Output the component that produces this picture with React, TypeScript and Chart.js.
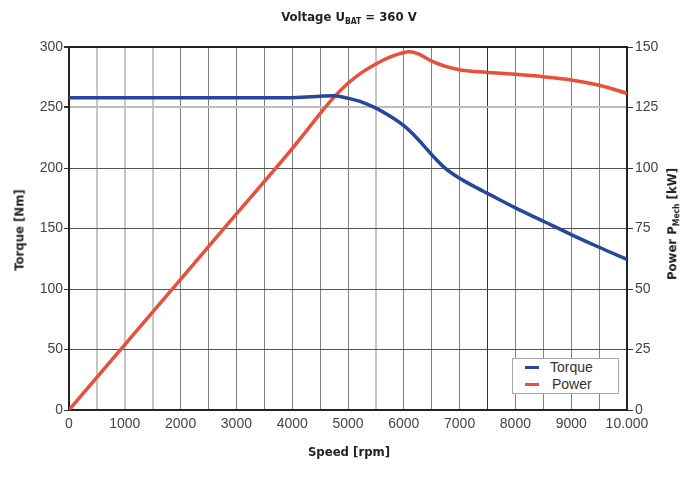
import { useEffect, useRef } from "react";
import { Chart, registerables } from "chart.js";

Chart.register(...registerables);

// values
const torqueSpeed = [0, 1000, 2000, 3000, 4000, 4250, 4500, 4750, 5000, 5250, 5500, 5750, 6000, 6250, 6500, 6750, 7000, 7250, 7500, 8000, 8500, 9000, 9500, 10000];
const torqueNm = [258, 258, 258, 258, 258, 258.6, 259.3, 259.8, 257.6, 254.5, 249.5, 243, 235, 224, 211, 199.5, 191.5, 185, 179, 167, 156, 145, 134.5, 124.5];
const powerSpeed = [0, 1000, 2000, 3000, 4000, 4250, 4500, 4750, 5000, 5250, 5500, 5750, 6000, 6100, 6250, 6500, 6750, 7000, 7250, 7500, 8000, 8500, 9000, 9500, 10000];
const powerKw = [0, 27, 54, 81, 108, 115.2, 122.5, 129.3, 135, 139.5, 143, 145.8, 147.7, 148, 147.3, 144.2, 142, 140.6, 139.9, 139.5, 138.7, 137.7, 136.4, 134.2, 130.9];

const lightX = [500, 1000, 1500, 5500];
const darkX = [7500];

const BLUE = "#27479a";
const RED = "#e8503a";
const tickFont = { family: "'Liberation Sans', Arial, sans-serif", size: 14 };
const titleFont = "'Liberation Sans Narrow', 'DejaVu Sans Condensed', 'Liberation Sans', sans-serif";

const label = (x: number, y: number, rotate = false): React.CSSProperties => ({
    position: "absolute",
    left: x,
    top: y,
    transform: `translate(-50%, -50%)${rotate ? " rotate(-90deg)" : ""}`,
    whiteSpace: "nowrap",
    fontFamily: titleFont,
    fontWeight: "bold",
    fontSize: 13,
    lineHeight: 1,
    color: "#222",
});

const sub: React.CSSProperties = { fontSize: 8.5, verticalAlign: "-3px", lineHeight: 1 };

export default function App() {
    const canvasRef: any = useRef(null);

    useEffect(() => {
        if (!canvasRef?.current) return;
        const chart = new Chart(canvasRef.current.getContext("2d"), {
            type: "line",
            data: {
                datasets: [
                    {
                        label: "Torque",
                        data: torqueSpeed.map((s, i) => ({ x: s, y: torqueNm[i] })),
                        borderColor: BLUE,
                        borderWidth: 3.5,
                        pointRadius: 0,
                        cubicInterpolationMode: "monotone",
                        yAxisID: "y",
                    },
                    {
                        label: "Power",
                        data: powerSpeed.map((s, i) => ({ x: s, y: powerKw[i] })),
                        borderColor: RED,
                        borderWidth: 3.5,
                        pointRadius: 0,
                        cubicInterpolationMode: "monotone",
                        yAxisID: "y1",
                    },
                ],
            },
            options: {
                responsive: true,
                maintainAspectRatio: false,
                animation: false,
                layout: { padding: { top: 47, left: 0, right: 0, bottom: 0 } },
                plugins: {
                    legend: { display: false },
                    title: { display: false },
                    tooltip: { enabled: false },
                },
                scales: {
                    x: {
                        type: "linear",
                        min: 0,
                        max: 10000,
                        afterFit: (scale: any) => {
                            scale.height = 74;
                        },
                        border: { color: "#222", width: 2 },
                        grid: {
                            drawTicks: false,
                            color: (ctx: any) =>
                                lightX.includes(ctx.tick?.value) ? "#c6c6c6" : darkX.includes(ctx.tick?.value) ? "#333" : "#808080",
                            lineWidth: (ctx: any) => (lightX.includes(ctx.tick?.value) ? 2 : 1),
                        },
                        ticks: {
                            stepSize: 500,
                            padding: 6,
                            maxRotation: 0,
                            autoSkip: false,
                            color: "#444",
                            font: tickFont,
                            callback: (v: any) => (v % 1000 !== 0 ? "" : v === 10000 ? "10.000" : String(v)),
                        },
                    },
                    y: {
                        position: "left",
                        min: 0,
                        max: 300,
                        afterFit: (scale: any) => {
                            scale.width = 69;
                        },
                        border: { color: "#222", width: 2 },
                        grid: {
                            tickLength: 5,
                            tickColor: "#333",
                            color: (ctx: any) => (ctx.tick?.value === 300 ? "#222" : ctx.tick?.value === 250 ? "#bdbdbd" : "#555"),
                            lineWidth: (ctx: any) => (ctx.tick?.value === 300 || ctx.tick?.value === 250 ? 2 : 1),
                        },
                        ticks: { stepSize: 50, padding: 1, color: "#444", font: tickFont },
                    },
                    y1: {
                        position: "right",
                        min: 0,
                        max: 150,
                        afterFit: (scale: any) => {
                            scale.width = 58;
                        },
                        border: { color: "#222", width: 2 },
                        grid: { drawOnChartArea: false, tickLength: 6, tickColor: "#333" },
                        ticks: { stepSize: 25, padding: 2, color: "#444", font: tickFont },
                    },
                },
            },
        });
        return () => {
            chart.destroy();
        };
    }, []);

    return (
        <div style={{ position: "absolute", left: 0, top: 0, width: 685, height: 484, background: "#fff" }}>
            <canvas ref={canvasRef} />
            <div style={label(349, 18)}>
                Voltage U<span style={sub}>BAT</span> = 360 V
            </div>
            <div style={label(349, 451)}>Speed [rpm]</div>
            <div style={label(19, 230, true)}>Torque [Nm]</div>
            <div style={label(673, 224, true)}>
                Power P<span style={sub}>Mech</span> [kW]
            </div>
            <div
                style={{
                    position: "absolute",
                    left: 512,
                    top: 358,
                    width: 105,
                    height: 34,
                    border: "1px solid #aaa",
                    background: "#fff",
                    fontFamily: tickFont.family,
                    fontSize: 14,
                    color: "#333",
                }}
            >
                {[
                    { name: "Torque", color: BLUE, top: 8, left: 37 },
                    { name: "Power", color: RED, top: 25, left: 39 },
                ].map((item) => (
                    <div key={item.name}>
                        <div
                            style={{
                                position: "absolute",
                                left: 12,
                                top: item.top - 1.5,
                                width: 14,
                                height: 3,
                                background: item.color,
                            }}
                        />
                        <div style={{ position: "absolute", left: item.left, top: item.top - 8, lineHeight: "16px" }}>
                            {item.name}
                        </div>
                    </div>
                ))}
            </div>
        </div>
    );
}
